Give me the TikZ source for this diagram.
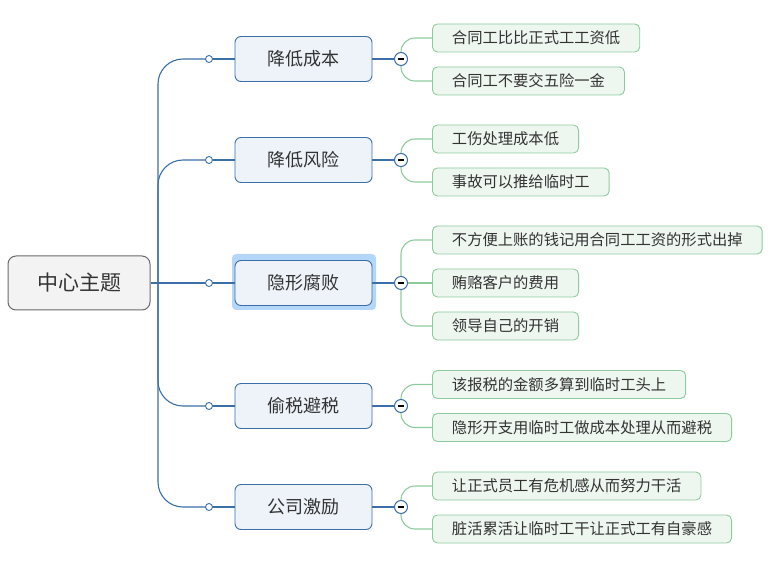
\documentclass[tikz,border=0pt]{standalone}
\usepackage{fontspec}
\setmainfont{Noto Sans CJK SC}
\usetikzlibrary{positioning}

\definecolor{trunkblue}{HTML}{3B6FA8}
\definecolor{topicfill}{HTML}{EEF3FA}
\definecolor{leaffill}{HTML}{EEF6F0}
\definecolor{leafgreen}{HTML}{8DCB9E}
\definecolor{rootfill}{HTML}{F3F3F3}
\definecolor{rootline}{HTML}{6A6A6A}
\definecolor{hlblue}{HTML}{B4D6F8}
\definecolor{inkgray}{HTML}{333333}

\begin{document}
\begin{tikzpicture}[x=1pt,y=-1pt,
  root/.style={draw=rootline,fill=rootfill,rounded corners=8pt,line width=1pt,
    minimum width=142pt,minimum height=54pt,text=inkgray,
    font=\fontsize{21}{24}\selectfont},
  topic/.style={draw=trunkblue,fill=topicfill,rounded corners=6pt,line width=0.9pt,
    minimum width=137pt,minimum height=45pt,text=inkgray,
    font=\fontsize{18}{21}\selectfont},
  leaf/.style={draw=leafgreen,fill=leaffill,rounded corners=5pt,line width=0.9pt,
    anchor=west,inner xsep=19.5pt,minimum height=28pt,text=inkgray,
    font=\fontsize{15.3}{18}\selectfont},
  trunk/.style={draw=trunkblue,line width=1.1pt},
  twig/.style={draw=leafgreen,line width=1.1pt,rounded corners=14pt},
  knob/.style={circle,draw=trunkblue,fill=white,line width=0.9pt,
    inner sep=0pt,minimum size=7pt},
  fold/.style={circle,draw=trunkblue,fill=white,line width=1pt,
    inner sep=0pt,minimum size=13pt}]
\useasboundingbox (0,0) rectangle (771,561);

% root
\node[root] (root) at (79,283) {中心主题};
\coordinate (hub) at (158,283);

% topics
\fill[hlblue,rounded corners=4pt] (232,254) rectangle (376,310);
\node[topic] (t1) at (303.5,59) {降低成本};
\node[topic] (t2) at (303.5,160) {降低风险};
\node[topic] (t3) at (303.5,283) {隐形腐败};
\node[topic] (t4) at (303.5,406) {偷税避税};
\node[topic] (t5) at (303.5,507) {公司激励};

\node[knob] (k1) at (209,59) {};
\node[knob] (k2) at (209,160) {};
\node[knob] (k3) at (209,283) {};
\node[knob] (k4) at (209,406) {};
\node[knob] (k5) at (209,507) {};

\coordinate (f1) at (401,59);
\coordinate (f2) at (401,160);
\coordinate (f3) at (401,283);
\coordinate (f4) at (401,406);
\coordinate (f5) at (401,507);

% leaves
\node[leaf] (l11) at (432,38) {合同工比比正式工工资低};
\node[leaf] (l12) at (432,81) {合同工不要交五险一金};
\node[leaf] (l21) at (432,139) {工伤处理成本低};
\node[leaf] (l22) at (432,182) {事故可以推给临时工};
\node[leaf] (l31) at (432,240) {不方便上账的钱记用合同工工资的形式出掉};
\node[leaf] (l32) at (432,283) {贿赂客户的费用};
\node[leaf] (l33) at (432,326) {领导自己的开销};
\node[leaf] (l41) at (432,384.5) {该报税的金额多算到临时工头上};
\node[leaf] (l42) at (432,427.5) {隐形开支用临时工做成本处理从而避税};
\node[leaf] (l51) at (432,486) {让正式员工有危机感从而努力干活};
\node[leaf] (l52) at (432,529) {脏活累活让临时工干让正式工有自豪感};

% trunk
\draw[trunk] (root.east) -- (hub) -- (k3);
\draw[trunk,rounded corners=25pt] (hub) |- (k1);
\draw[trunk,rounded corners=25pt] (hub) |- (k2);
\draw[trunk,rounded corners=25pt] (hub) |- (k4);
\draw[trunk,rounded corners=25pt] (hub) |- (k5);
\draw[trunk] (k1) -- (t1);
\draw[trunk] (k2) -- (t2);
\draw[trunk] (k3) -- (t3);
\draw[trunk] (k4) -- (t4);
\draw[trunk] (k5) -- (t5);
\draw[trunk] (t1) -- (f1);
\draw[trunk] (t2) -- (f2);
\draw[trunk] (t3) -- (f3);
\draw[trunk] (t4) -- (f4);
\draw[trunk] (t5) -- (f5);

% twigs
\draw[twig] (f1) |- (l11.west);
\draw[twig] (f1) |- (l12.west);
\draw[twig] (f2) |- (l21.west);
\draw[twig] (f2) |- (l22.west);
\draw[twig] (f3) |- (l31.west);
\draw[twig] (f3) -- (l32.west);
\draw[twig] (f3) |- (l33.west);
\draw[twig] (f4) |- (l41.west);
\draw[twig] (f4) |- (l42.west);
\draw[twig] (f5) |- (l51.west);
\draw[twig] (f5) |- (l52.west);

% fold buttons
\foreach \f in {f1,f2,f3,f4,f5}{
  \node[fold] at (\f) {};
  \draw[line width=1.1pt] ([xshift=-3pt]\f) -- ([xshift=3pt]\f);
}
\end{tikzpicture}
\end{document}
